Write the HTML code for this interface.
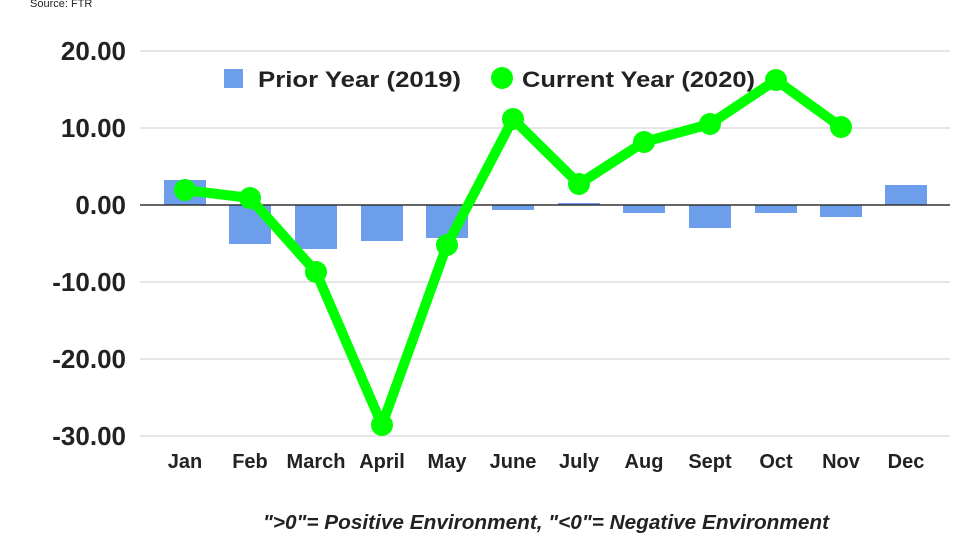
<!DOCTYPE html>
<html><head><meta charset="utf-8"><style>
html,body{margin:0;padding:0;background:#fff;}
svg{display:block;font-family:"Liberation Sans",Roboto,sans-serif;}
</style></head><body>
<svg width="980" height="552" viewBox="0 0 980 552">
<text x="30" y="7" font-size="11" fill="#222">Source: FTR</text>
<g stroke="#ccc" stroke-width="1">
<line x1="140" x2="950" y1="51" y2="51"/>
<line x1="140" x2="950" y1="128" y2="128"/>
<line x1="140" x2="950" y1="282" y2="282"/>
<line x1="140" x2="950" y1="359" y2="359"/>
<line x1="140" x2="950" y1="436" y2="436"/>
</g>
<g font-size="26" font-weight="bold" fill="#222" text-anchor="end">
<text x="126" y="60">20.00</text>
<text x="126" y="137">10.00</text>
<text x="126" y="214">0.00</text>
<text x="126" y="291">-10.00</text>
<text x="126" y="368">-20.00</text>
<text x="126" y="445">-30.00</text>
</g>
<g fill="#6d9eeb">
<rect x="164" y="180" width="42" height="25"/>
<rect x="229" y="205" width="42" height="39"/>
<rect x="295" y="205" width="42" height="44"/>
<rect x="361" y="205" width="42" height="36"/>
<rect x="426" y="205" width="42" height="33"/>
<rect x="492" y="205" width="42" height="5"/>
<rect x="558" y="203" width="42" height="2"/>
<rect x="623" y="205" width="42" height="8"/>
<rect x="689" y="205" width="42" height="23"/>
<rect x="755" y="205" width="42" height="8"/>
<rect x="820" y="205" width="42" height="12"/>
<rect x="885" y="185" width="42" height="20"/>
</g>
<line x1="140" x2="950" y1="205" y2="205" stroke="#333" stroke-width="1.5"/>
<polyline fill="none" stroke="#00ff00" stroke-width="10" stroke-linejoin="round" points="185,190 250,198 316,272 382,425 447,245 513,119 579,184 644,142 710,124 776,80 841,127"/>
<g fill="#00ff00">
<circle cx="185" cy="190" r="11"/><circle cx="250" cy="198" r="11"/><circle cx="316" cy="272" r="11"/><circle cx="382" cy="425" r="11"/><circle cx="447" cy="245" r="11"/><circle cx="513" cy="119" r="11"/><circle cx="579" cy="184" r="11"/><circle cx="644" cy="142" r="11"/><circle cx="710" cy="124" r="11"/><circle cx="776" cy="80" r="11"/><circle cx="841" cy="127" r="11"/>
</g>
<rect x="224" y="69" width="19" height="19" fill="#6d9eeb"/>
<text x="258" y="87" font-size="22" font-weight="bold" fill="#222" textLength="203" lengthAdjust="spacingAndGlyphs">Prior Year (2019)</text>
<circle cx="502" cy="78" r="11" fill="#00ff00"/>
<text x="522" y="87" font-size="22" font-weight="bold" fill="#222" textLength="233" lengthAdjust="spacingAndGlyphs">Current Year (2020)</text>
<g font-size="20" font-weight="bold" fill="#222" text-anchor="middle">
<text x="185" y="468">Jan</text><text x="250" y="468">Feb</text><text x="316" y="468">March</text><text x="382" y="468">April</text><text x="447" y="468">May</text><text x="513" y="468">June</text><text x="579" y="468">July</text><text x="644" y="468">Aug</text><text x="710" y="468">Sept</text><text x="776" y="468">Oct</text><text x="841" y="468">Nov</text><text x="906" y="468">Dec</text>
</g>
<text x="263" y="529" font-size="20" font-weight="bold" font-style="italic" fill="#222" textLength="566" lengthAdjust="spacingAndGlyphs">"&gt;0"= Positive Environment, "&lt;0"= Negative Environment</text>
</svg>
</body></html>
